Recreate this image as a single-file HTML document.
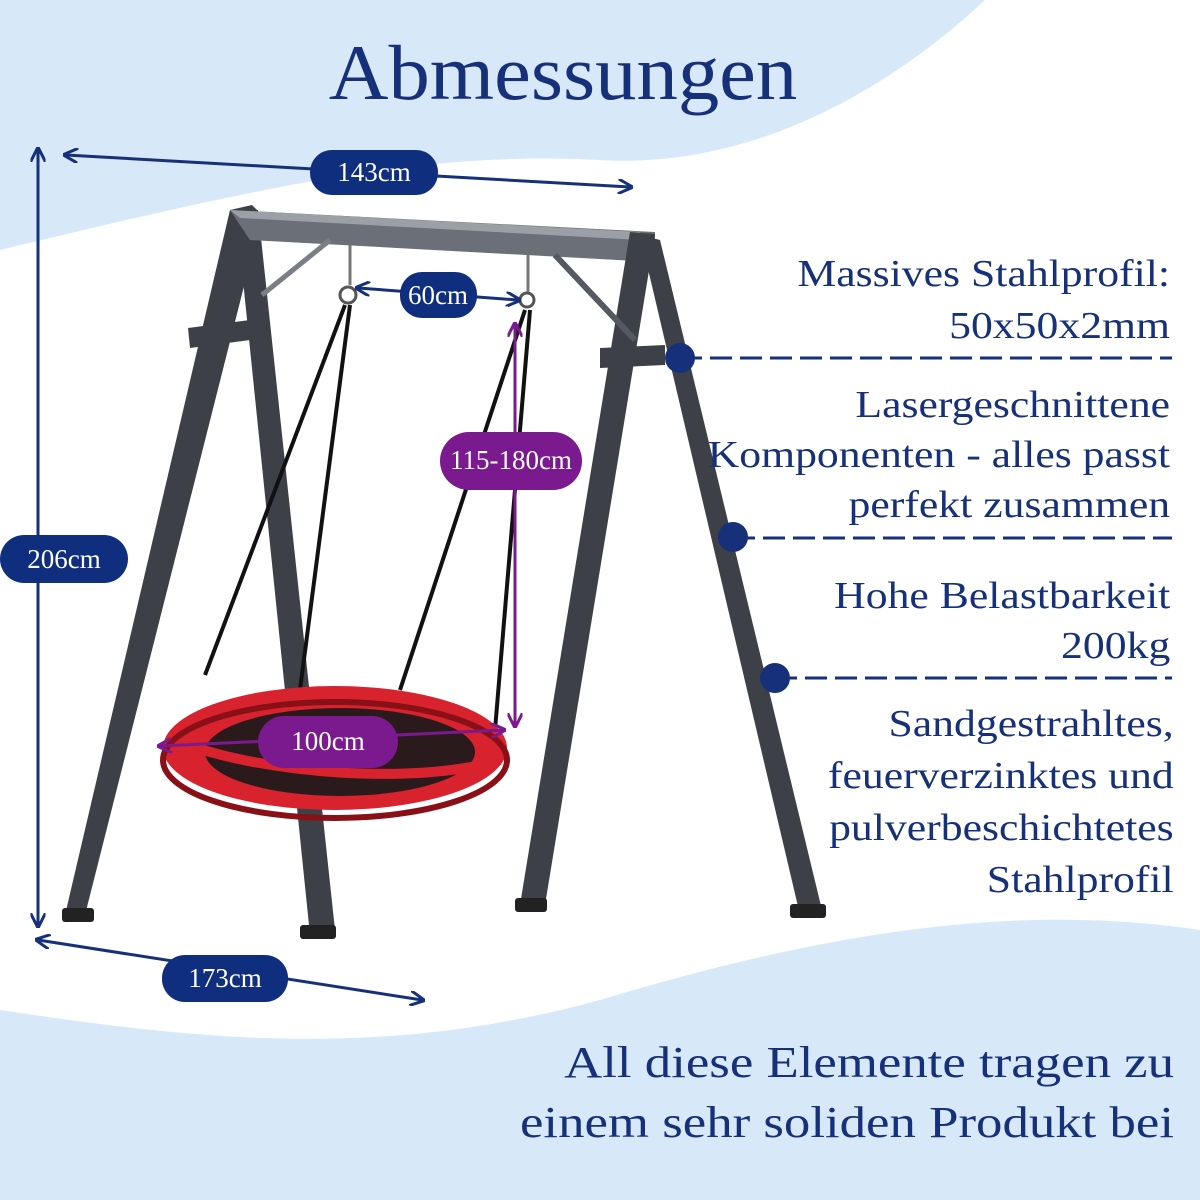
<!DOCTYPE html>
<html><head><meta charset="utf-8"><style>
html,body{margin:0;padding:0}
body{width:1200px;height:1200px;position:relative;overflow:hidden;background:#fff;font-family:"Liberation Serif",serif}
.t{position:absolute;color:#16307a;text-align:right;right:30px;white-space:nowrap;transform-origin:right top;transform:scaleX(1.15)}
</style></head><body>
<svg width="1200" height="1200" style="position:absolute;left:0;top:0">
<defs>
<marker id="an" viewBox="0 0 10 10" refX="8" refY="5" markerWidth="5" markerHeight="5" orient="auto-start-reverse"><path d="M0,0 L10,5 L0,10" fill="none" stroke="#16307a" stroke-width="2"/></marker>
<marker id="ap" viewBox="0 0 10 10" refX="8" refY="5" markerWidth="5" markerHeight="5" orient="auto-start-reverse"><path d="M0,0 L10,5 L0,10" fill="none" stroke="#7a1a8e" stroke-width="2"/></marker>
</defs>
<path d="M0,0 H985 C900,80 760,170 600,160 C420,150 250,190 0,250 Z" fill="#d7e9f8"/>
<path d="M0,1010 C200,1040 380,1060 600,1000 C800,940 1000,900 1200,930 V1200 H0 Z" fill="#d7e9f8"/>
<g fill="#3d4147">
<polygon points="230,210 252,205 262,215 85,915 65,915"/>
<polygon points="236,212 258,210 335,930 310,935"/>
<polygon points="230,210 655,232 655,262 250,240" fill="#6b7078"/>
<polygon points="230,210 640,232 640,240 240,218" fill="#9aa0a6"/>
<polygon points="630,232 655,234 545,905 520,905"/>
<polygon points="640,235 660,240 822,910 800,915"/>
<polygon points="188,328 250,320 250,340 190,348"/>
<polygon points="600,348 665,345 665,365 600,368"/>
<rect x="62" y="908" width="32" height="14" rx="3" fill="#222"/>
<rect x="300" y="925" width="36" height="14" rx="3" fill="#222"/>
<rect x="515" y="898" width="32" height="14" rx="3" fill="#222"/>
<rect x="790" y="904" width="36" height="14" rx="3" fill="#222"/>
</g>
<line x1="262" y1="295" x2="330" y2="240" stroke="#7a7f86" stroke-width="5"/>
<line x1="555" y1="255" x2="635" y2="340" stroke="#555a60" stroke-width="6"/>
<circle cx="348" cy="295" r="8" fill="none" stroke="#555" stroke-width="3"/>
<circle cx="527" cy="300" r="7" fill="none" stroke="#555" stroke-width="3"/>
<line x1="350" y1="245" x2="350" y2="285" stroke="#777" stroke-width="3"/>
<line x1="528" y1="255" x2="528" y2="292" stroke="#777" stroke-width="3"/>
<g stroke="#111" stroke-width="4">
<line x1="345" y1="305" x2="205" y2="675"/>
<line x1="350" y1="305" x2="300" y2="690"/>
<line x1="525" y1="310" x2="400" y2="690"/>
<line x1="530" y1="310" x2="495" y2="730"/>
</g>
<ellipse cx="335" cy="748" rx="172" ry="62" fill="#d8232f"/>
<ellipse cx="340" cy="752" rx="135" ry="44" fill="#2a1a1c"/>
<path d="M175,740 C260,775 420,785 500,760" stroke="#d8232f" stroke-width="10" fill="none"/>
<ellipse cx="335" cy="760" rx="172" ry="58" fill="none" stroke="#8a1018" stroke-width="6"/>
<g stroke="#16307a" stroke-width="3" fill="none">
<line x1="38" y1="150" x2="38" y2="925" marker-start="url(#an)" marker-end="url(#an)"/>
<line x1="66" y1="155" x2="630" y2="187" marker-start="url(#an)" marker-end="url(#an)"/>
<line x1="38" y1="940" x2="422" y2="1000" marker-start="url(#an)" marker-end="url(#an)"/>
<line x1="358" y1="288" x2="518" y2="300" marker-start="url(#an)" marker-end="url(#an)"/>
</g>
<g stroke="#7a1a8e" stroke-width="3" fill="none">
<line x1="515" y1="325" x2="515" y2="725" marker-start="url(#ap)" marker-end="url(#ap)"/>
<line x1="160" y1="746" x2="503" y2="730" marker-start="url(#ap)" marker-end="url(#ap)"/>
</g>
<g fill="#0f2e7d">
<rect x="310" y="150" width="128" height="45" rx="22"/>
<rect x="400" y="272" width="77" height="46" rx="22"/>
<rect x="0" y="535" width="128" height="48" rx="24"/>
<rect x="162" y="955" width="126" height="47" rx="23"/>
</g>
<g fill="#7a1a8e">
<rect x="440" y="432" width="142" height="58" rx="29"/>
<rect x="258" y="716" width="140" height="52" rx="26"/>
</g>
<g fill="#fff" font-family="Liberation Serif,serif" font-size="27" text-anchor="middle">
<text x="374" y="181">143cm</text>
<text x="438" y="304">60cm</text>
<text x="64" y="568">206cm</text>
<text x="225" y="987">173cm</text>
<text x="511" y="469">115-180cm</text>
<text x="328" y="750">100cm</text>
</g>
<g stroke="#16307a" stroke-width="3" stroke-dasharray="22,8">
<line x1="680" y1="358" x2="1172" y2="358"/>
<line x1="733" y1="538" x2="1172" y2="538"/>
<line x1="775" y1="678" x2="1172" y2="678"/>
</g>
<g fill="#16307a"><circle cx="680" cy="358" r="15"/><circle cx="733" cy="537" r="15"/><circle cx="775" cy="678" r="15"/></g>
</svg>
<div style="position:absolute;left:0;width:1126px;text-align:center;top:28px;font-size:78px;color:#16307a;transform:scaleX(1.06)">Abmessungen</div>
<div class="t" style="top:248px;font-size:38px;line-height:52px">Massives Stahlprofil:<br>50x50x2mm</div>
<div class="t" style="top:380px;font-size:38px;line-height:50px">Lasergeschnittene<br>Komponenten - alles passt<br>perfekt zusammen</div>
<div class="t" style="top:571px;font-size:38px;line-height:50px">Hohe Belastbarkeit<br>200kg</div>
<div class="t" style="top:698px;font-size:38px;line-height:52px;right:26px">Sandgestrahltes,<br>feuerverzinktes und<br>pulverbeschichtetes<br>Stahlprofil</div>
<div class="t" style="top:1033px;font-size:44px;line-height:60px;right:26px;transform:scaleX(1.2)">All diese Elemente tragen zu<br>einem sehr soliden Produkt bei</div>
</body></html>
